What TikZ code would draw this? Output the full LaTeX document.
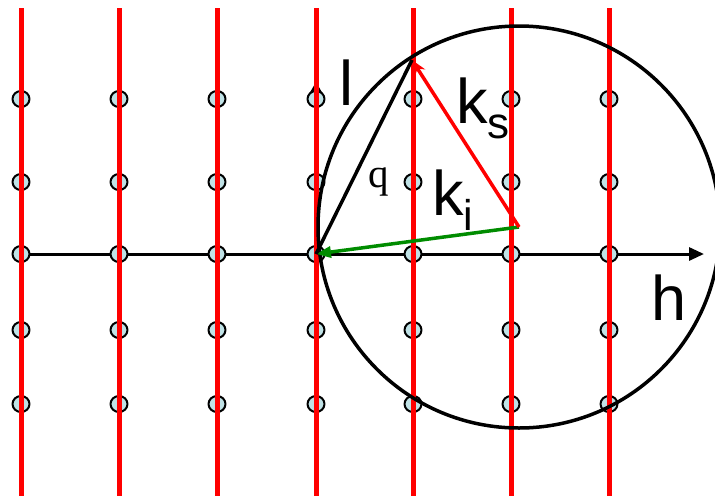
\documentclass[tikz,border=0pt]{standalone}
\usepackage{fontspec}
\setmainfont{Liberation Sans}
\newfontfamily\serifq{Liberation Serif}
\usetikzlibrary{arrows.meta}
\definecolor{siteblue}{RGB}{192,226,230}
\definecolor{rodred}{RGB}{255,0,0}
\definecolor{kgreen}{RGB}{0,140,0}

\begin{document}
\begin{tikzpicture}[x=1pt, y=-1pt, line join=round,
  axis/.style={draw, line width=3pt, -{Triangle[length=15pt,width=13pt]}},
  rod/.style={draw=rodred, line width=5pt},
  site/.style={draw, line width=2pt, fill=siteblue},
  ewald/.style={draw, line width=3.5pt},
  wave/.style={line width=3.5pt},
  lbl/.style={font=\fontsize{63}{63}\selectfont, inner sep=0pt, anchor=base west}]
  \useasboundingbox (0,0) rectangle (715,496);
  \clip (0,0) rectangle (715,496);
  \coordinate (O) at (316,254);
  \coordinate (C) at (519,227);
  \coordinate (T) at (412,60);
  \coordinate (hstart) at (12,254);
  \coordinate (hend) at (704,254);
  \coordinate (lend) at (316,82);
  % axes
  \draw[axis] (hstart) -- (hend);
  \draw[axis, -{Triangle[length=11pt,width=12pt]}] (O) -- (lend);
  % reciprocal lattice points
  \foreach \x in {21,119,217,316,413,511,609}
    \foreach \y in {99,182,254,330,404}
      \path[site] (\x,\y) ellipse [x radius=8.5pt, y radius=8pt];
  % CTRs
  \foreach \x in {21,119,217,316,413,511,609}
    \draw[rod] (\x,8) -- (\x,496);
  % Ewald sphere and wave vectors
  \draw[ewald] (C) circle [radius=201pt];
  \draw[wave, draw=kgreen, -{Triangle[length=15pt,width=11pt]}] (C) -- (O);
  \draw[wave, draw=rodred, -{Stealth[length=15pt,width=12pt]}] (C) -- (T);
  \draw[wave] (O) -- (T);
  \node[lbl] (lab-l) at (339,105) {l};
  \node[lbl] (lab-h) at (651,320) {h};
  \node[lbl] (lab-ks) at (456,123) {k\raisebox{-15pt}{\fontsize{44}{44}\selectfont s}};
  \node[lbl] (lab-ki) at (432,215) {k\raisebox{-15pt}{\fontsize{43}{43}\selectfont i}};
  \node[inner sep=0pt, anchor=base, font=\serifq\fontsize{41}{41}\selectfont] (lab-q) at (379,187) {q};
\end{tikzpicture}
\end{document}
